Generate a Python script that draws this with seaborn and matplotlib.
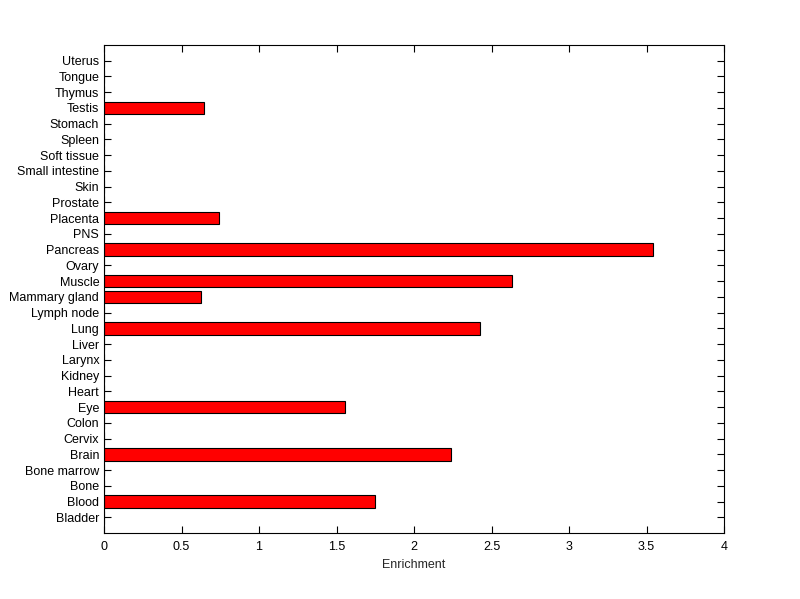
import numpy as np
import pandas as pd
import seaborn as sns
import matplotlib
matplotlib.use("Agg")
import matplotlib.pyplot as plt

# tissues, bottom to top as in the figure
tissues = ["Bladder", "Blood", "Bone", "Bone marrow", "Brain", "Cervix", "Colon", "Eye",
           "Heart", "Kidney", "Larynx", "Liver", "Lung", "Lymph node", "Mammary gland",
           "Muscle", "Ovary", "Pancreas", "PNS", "Placenta", "Prostate", "Skin",
           "Small intestine", "Soft tissue", "Spleen", "Stomach", "Testis", "Thymus",
           "Tongue", "Uterus"]
enrichment = [0, 1.75, 0, 0, 2.24, 0, 0, 1.555,
              0, 0, 0, 0, 2.425, 0, 0.625,
              2.63, 0, 3.54, 0, 0.74, 0, 0,
              0, 0, 0, 0, 0.645, 0,
              0, 0]

df = pd.DataFrame({"tissue": tissues, "Enrichment": enrichment})
order = tissues[::-1]  # seaborn puts first category at top

sns.set_style("white")
plt.rcParams['font.family'] = ['Liberation Sans', 'DejaVu Sans']

fig = plt.figure(figsize=(8, 5.99), dpi=100)
ax = fig.add_axes([0.13, 0.11, 0.775, 0.815])

sns.barplot(data=df, x="Enrichment", y="tissue", order=order, orient="h",
            color="#ff0000", saturation=1, edgecolor="black", linewidth=0.8,
            width=0.8, ax=ax)

ax.set_xlim(0, 4)
ax.set_ylim(len(tissues), -1)
ax.set_xticks(np.arange(0, 4.01, 0.5))
ax.set_xticklabels(["0", "0.5", "1", "1.5", "2", "2.5", "3", "3.5", "4"])
ax.set_xlabel("Enrichment", fontsize=9)
ax.set_ylabel("")
ax.tick_params(axis="both", direction="in", length=5, width=0.8, labelsize=9,
               top=True, right=True, left=True, bottom=True, colors="black")
ax.tick_params(axis="x", pad=6)
for s in ax.spines.values():
    s.set_visible(True)
    s.set_color("black")
    s.set_linewidth(0.8)

fig.savefig("out.png", dpi=100, facecolor="white")
